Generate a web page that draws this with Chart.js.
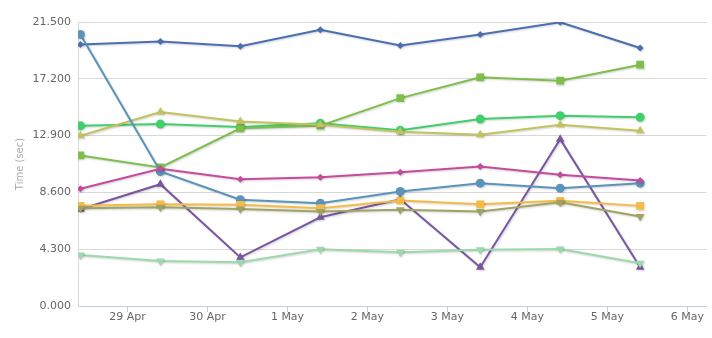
<!DOCTYPE html>
<html>
<head>
<meta charset="utf-8">
<title>Run times</title>
<script src="https://cdn.jsdelivr.net/npm/chart.js@4.4.0/dist/chart.umd.min.js"></script>
<style>
  html, body { margin: 0; padding: 0; background: #fff; }
  #wrap { width: 712px; height: 338px; position: relative; }
</style>
</head>
<body>
<div id="wrap"><canvas id="timeChart"></canvas></div>
<script>
// x positions are days counted from 29 Apr 00:00
const dayLabels = ['29 Apr', '30 Apr', '1 May', '2 May', '3 May', '4 May', '5 May', '6 May'];
const dayTicks = [0, 1, 2, 3, 4, 5, 6, 7];
const runDays = [-0.59, 0.41, 1.41, 2.41, 3.41, 4.41, 5.41, 6.41];
const yTicks = [0, 4.3, 8.6, 12.9, 17.2, 21.5];

const blueRun = [19.79, 20.02, 19.66, 20.92, 19.73, 20.55, 21.48, 19.53];
const steelRun = [20.55, 10.18, 8.04, 7.78, 8.67, 9.30, 8.92, 9.30];
const greenRun = [13.65, 13.77, 13.55, 13.84, 13.30, 14.15, 14.41, 14.28];
const khakiRun = [12.89, 14.68, 13.97, 13.72, 13.20, 12.96, 13.72, 13.27];
const limeRun = [11.40, 10.49, 13.45, 13.65, 15.74, 17.31, 17.06, 18.27];
const magentaRun = [8.87, 10.39, 9.60, 9.75, 10.13, 10.56, 9.93, 9.50];
const orangeRun = [7.58, 7.70, 7.66, 7.40, 7.98, 7.70, 7.96, 7.58];
const oliveRun = [7.40, 7.48, 7.35, 7.15, 7.28, 7.15, 7.85, 6.77];
const purpleRun = [7.32, 9.22, 3.68, 6.72, 8.08, 2.93, 12.63, 2.93];
const mintRun = [3.87, 3.41, 3.31, 4.29, 4.06, 4.25, 4.32, 3.23];

const markerSize = { rectRot: 3.5, rect: 5.5, circle: 4.5, triangle: 5 };

function series(values, color, style, rotation) {
    return {
        data: values.map((v, i) => ({ x: runDays[i], y: v })),
        borderColor: color,
        backgroundColor: color,
        pointBackgroundColor: color,
        pointBorderColor: color,
        pointStyle: style,
        pointRotation: rotation || 0,
        pointRadius: markerSize[style],
        pointBorderWidth: 0,
        borderWidth: 2,
        tension: 0,
        fill: false
    };
}

// soft drop shadow under the lines
const lineShadow = {
    id: 'lineShadow',
    beforeDatasetsDraw(chart) {
        const ctx = chart.ctx;
        ctx.save();
        ctx.shadowColor = 'rgba(0, 0, 0, 0.18)';
        ctx.shadowBlur = 2;
        ctx.shadowOffsetX = 1;
        ctx.shadowOffsetY = 1;
    },
    afterDatasetsDraw(chart) {
        chart.ctx.restore();
    }
};

const ctx = document.getElementById('timeChart').getContext('2d');
new Chart(ctx, {
    type: 'line',
    data: {
        datasets: [
            series(oliveRun, '#a0a364', 'triangle', 180),
            series(orangeRun, '#f5bb47', 'rect'),
            series(mintRun, '#9cd9ad', 'triangle', 180),
            series(magentaRun, '#c64b9c', 'rectRot'),
            series(steelRun, '#5b93b9', 'circle'),
            series(khakiRun, '#c2c35e', 'triangle'),
            series(limeRun, '#7ebf4c', 'rect'),
            series(greenRun, '#3fd06c', 'circle'),
            series(purpleRun, '#7a56a0', 'triangle'),
            series(blueRun, '#4a6fb0', 'rectRot')
        ]
    },
    plugins: [lineShadow],
    options: {
        responsive: true,
        maintainAspectRatio: false,
        animation: false,
        layout: { padding: { top: 22, right: 1, bottom: 0, left: 0 } },
        plugins: {
            legend: { display: false },
            tooltip: { enabled: false }
        },
        scales: {
            x: {
                type: 'linear',
                min: -0.62,
                max: 7.24,
                afterBuildTicks(scale) {
                    scale.ticks = dayTicks.map(v => ({ value: v }));
                },
                afterFit(scale) {
                    scale.height = 32;
                    scale.paddingLeft = 0;
                    scale.paddingRight = 0;
                },
                ticks: {
                    autoSkip: false,
                    maxRotation: 0,
                    padding: -1,
                    color: '#666',
                    font: { family: "'DejaVu Sans', sans-serif", size: 11 },
                    callback: (value) => dayLabels[dayTicks.indexOf(value)]
                },
                grid: {
                    drawOnChartArea: false,
                    drawTicks: true,
                    tickLength: 6,
                    color: '#c0d0e0',
                    lineWidth: 1
                },
                border: { color: '#c0d0e0', width: 1 }
            },
            y: {
                min: 0,
                max: 21.5,
                afterBuildTicks(scale) {
                    scale.ticks = yTicks.map(v => ({ value: v }));
                },
                afterFit(scale) {
                    scale.width = 78;
                },
                ticks: {
                    padding: 7,
                    color: '#666',
                    font: { family: "'DejaVu Sans', sans-serif", size: 11 },
                    callback: (value) => value.toFixed(3)
                },
                grid: {
                    drawTicks: false,
                    color: '#d8d8d8',
                    lineWidth: 1
                },
                border: { display: true, color: '#d8d8d8', width: 1 },
                title: {
                    display: true,
                    text: 'Time (sec)',
                    color: '#aaa',
                    font: { family: "'DejaVu Sans', sans-serif", size: 10 },
                    padding: { top: 14, bottom: 0 }
                }
            }
        }
    }
});
</script>
</body>
</html>
